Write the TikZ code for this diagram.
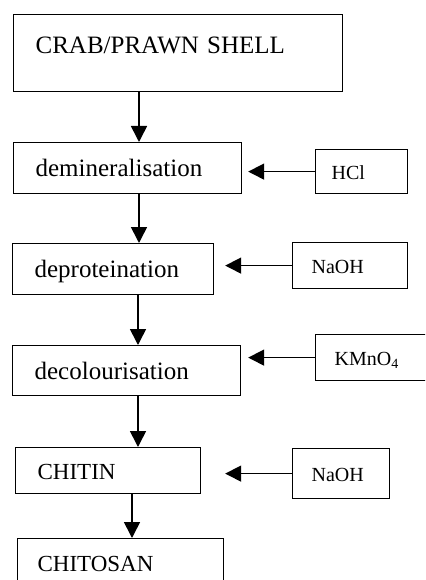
\documentclass[tikz,border=0pt]{standalone}
\usepackage{fontspec}
\setmainfont{Liberation Serif}
\usetikzlibrary{arrows.meta}

\begin{document}
\begin{tikzpicture}[x=1pt, y=-1pt,
    stage/.style={draw, line width=1.2pt, anchor=north west, align=left,
      inner xsep=22pt, inner ysep=3pt, text height=17pt, text depth=0pt,
      font=\fontsize{25}{30}\selectfont},
    reagent/.style={draw, line width=1.2pt, anchor=north west, align=left,
      inner xsep=19pt, inner ysep=3pt, text height=16pt, text depth=0pt,
      font=\fontsize{20}{24}\selectfont},
    flow/.style={line width=1.6pt, -{Triangle[length=16pt,width=16pt]}}]
  \useasboundingbox (0,0) rectangle (425,580);
  \clip (0,0) rectangle (425,580);
  % process steps
  \node[stage, text width=285pt, minimum height=77pt, text depth=16pt] (shell) at (13,14) {CRAB/PRAWN SHELL};
  \node[stage, text width=184pt, minimum height=51pt] (demin) at (13,142) {demineralisation};
  \node[stage, text width=157pt, minimum height=51pt] (deprot) at (12,243) {deproteination};
  \node[stage, text width=184pt, minimum height=50pt] (decol) at (12,345) {decolourisation};
  \node[stage, text width=141pt, minimum height=46pt, font=\fontsize{23}{28}\selectfont] (chitin) at (15,447) {CHITIN};
  \node[stage, text width=166pt, minimum height=49pt, inner xsep=20pt, font=\fontsize{23}{28}\selectfont] (chitosan) at (17,538) {CHITOSAN};
  % reagents
  \node[reagent, text width=60pt, minimum height=44pt, inner xsep=16pt] (hcl) at (315,149) {HCl};
  \node[reagent, text width=77pt, minimum height=46pt] (naoha) at (292,242) {NaOH};
  \node[reagent, text width=82pt, minimum height=46pt] (kmno) at (315,334) {KMnO\textsubscript{4}};
  \node[reagent, text width=59pt, minimum height=50pt] (naohb) at (292,448) {NaOH};
  % arrows
  \draw[flow] ([xshift=126pt]shell.south west) -- ([xshift=126pt]shell.south west |- demin.north);
  \draw[flow] ([xshift=126pt]demin.south west) -- ([xshift=126pt]demin.south west |- deprot.north);
  \draw[flow] ([xshift=126pt]deprot.south west) -- ([xshift=126pt]deprot.south west |- decol.north);
  \draw[flow] ([xshift=126pt]decol.south west) -- ([xshift=126pt]decol.south west |- chitin.north);
  \draw[flow] ([xshift=117pt]chitin.south west) -- ([xshift=117pt]chitin.south west |- chitosan.north);
  \draw[flow] (hcl.west) -- ([xshift=6pt]demin.east |- hcl.west);
  \draw[flow] (naoha.west) -- ([xshift=11pt]deprot.east |- naoha.west);
  \draw[flow] (kmno.west) -- ([xshift=7pt]decol.east |- kmno.west);
  \draw[flow] (naohb.west) -- ([xshift=24pt]chitin.east |- naohb.west);
\end{tikzpicture}
\end{document}
